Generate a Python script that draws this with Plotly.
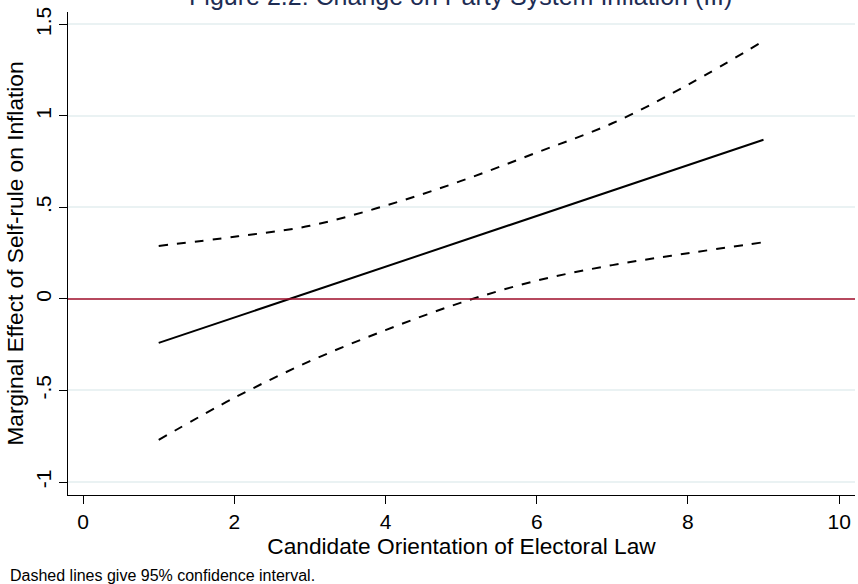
import plotly.graph_objects as go

# Candidate orientation values at which the marginal effect is evaluated
x_vals = [1, 2, 3, 4, 5, 6, 7, 8, 9]
# Marginal effect of self-rule on inflation
effect = [-0.24, -0.101, 0.037, 0.176, 0.315, 0.454, 0.592, 0.731, 0.87]
# 95% confidence bounds
upper = [0.29, 0.34, 0.40, 0.51, 0.645, 0.80, 0.96, 1.17, 1.41]
lower = [-0.77, -0.54, -0.34, -0.17, -0.02, 0.10, 0.185, 0.25, 0.31]

x_ticks = [0, 2, 4, 6, 8, 10]
y_ticks = [-1, -0.5, 0, 0.5, 1, 1.5]
y_tick_text = ["-1", "-.5", "0", ".5", "1", "1.5"]

font_family = "Liberation Sans Narrow, Arial Narrow, Liberation Sans, Arial"

fig = go.Figure()
fig.add_trace(go.Scatter(x=x_vals, y=upper, mode="lines",
                         line=dict(color="black", width=2, dash="dash", shape="spline"),
                         showlegend=False))
fig.add_trace(go.Scatter(x=x_vals, y=lower, mode="lines",
                         line=dict(color="black", width=2, dash="dash", shape="spline"),
                         showlegend=False))
fig.add_trace(go.Scatter(x=x_vals, y=effect, mode="lines",
                         line=dict(color="black", width=2),
                         showlegend=False))

# Zero reference line
fig.add_shape(type="line", xref="paper", x0=0, x1=1, yref="y", y0=0, y1=0,
              line=dict(color="#a50f2d", width=1.5))

fig.update_layout(
    width=858, height=584,
    margin=dict(l=68, r=3, t=12, b=89),
    plot_bgcolor="white", paper_bgcolor="white",
    font=dict(family=font_family, color="black", size=21),
    title=dict(text="Figure 2.2: Change on Party System Inflation (III)",
               font=dict(family="Liberation Sans, Arial", size=25, color="#1e2d54"),
               x=0.537, xanchor="center", y=1 - 5 / 584, yanchor="bottom",
               yref="container"),
    xaxis=dict(range=[-0.2, 10.21], tickvals=x_ticks, showgrid=False, zeroline=False,
               showline=True, linecolor="black", linewidth=1,
               ticks="outside", ticklen=8, tickcolor="black",
               tickfont=dict(size=21),
               title=dict(text="Candidate Orientation of Electoral Law",
                          font=dict(size=22.7), standoff=0)),
    yaxis=dict(range=[-1.071, 1.568], tickvals=y_ticks, ticktext=y_tick_text,
               tickangle=-90, showgrid=True, gridcolor="#eaf2f3", gridwidth=1.5,
               zeroline=False, showline=True, linecolor="black", linewidth=1,
               ticks="outside", ticklen=8, tickcolor="black",
               tickfont=dict(size=21),
               title=dict(text="Marginal Effect of Self-rule on Inflation",
                          font=dict(size=22.7), standoff=1)),
)

fig.add_annotation(text="Dashed lines give 95% confidence interval.",
                   xref="paper", yref="paper", x=-60 / 787, y=-80 / 483,
                   xanchor="left", yanchor="middle", showarrow=False,
                   font=dict(size=16, family=font_family))

fig.write_html("out.html")
